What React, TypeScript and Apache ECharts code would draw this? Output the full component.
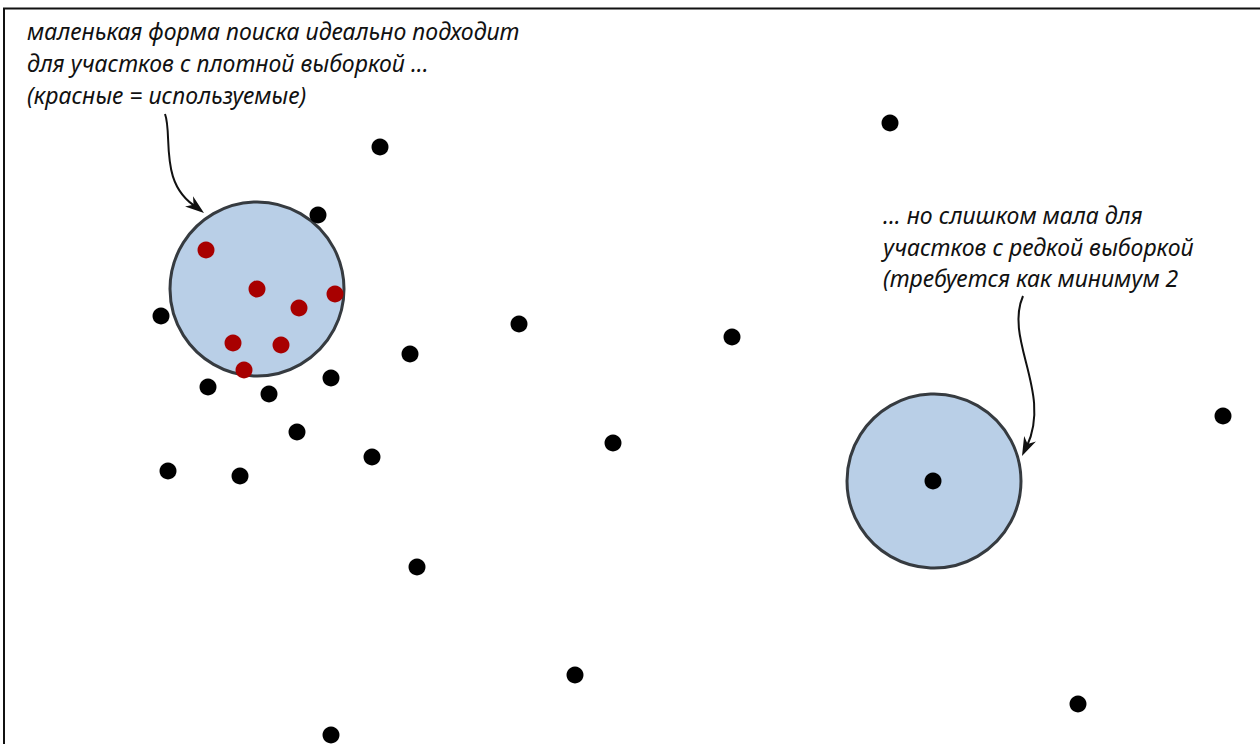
import React, { useEffect, useRef } from "react";
import * as echarts from "echarts";

// Sample points (pixel-like coordinates of the diagram plane, y grows downward)
const blackPoints: [number, number][] = [
  [380, 147], [890, 123], [318, 215], [161, 316], [519, 324], [732, 337],
  [410, 354], [331, 378], [208, 387], [269, 394], [297, 432], [613, 443],
  [1223, 416], [372, 457], [168, 471], [240, 476], [933, 481], [417, 567],
  [575, 675], [1078, 704], [331, 735],
];
const redPoints: [number, number][] = [
  [206, 250], [257, 289], [299, 308], [335, 294], [233, 343], [281, 345], [244, 370],
];
// Search windows (centre x, centre y)
const searchCircles: [number, number][] = [
  [257, 289], [934, 481],
];
const noteLeft: string[] = [
  "маленькая форма поиска идеально подходит",
  "для участков с плотной выборкой ...",
  "(красные = используемые)",
];
const noteRight: string[] = [
  "... но слишком мала для",
  "участков с редкой выборкой",
  "(требуется как минимум 2",
];

const W = 1260;
const H = 744;

function arrowHead(tipX: number, tipY: number, angleDeg: number, color: string) {
  const a = (angleDeg * Math.PI) / 180;
  const len = 19;
  const half = 6.5;
  const dx = Math.cos(a), dy = Math.sin(a);
  const bx = tipX - dx * len, by = tipY - dy * len;
  const nx = -dy, ny = dx;
  const notchX = tipX - dx * len * 0.7, notchY = tipY - dy * len * 0.7;
  return {
    type: "polygon",
    shape: {
      points: [
        [tipX, tipY],
        [bx + nx * half, by + ny * half],
        [notchX, notchY],
        [bx - nx * half, by - ny * half],
      ],
    },
    style: { fill: color },
    z: 20,
  };
}

export default function App() {
  const ref = useRef<HTMLDivElement>(null);
  useEffect(() => {
    document.body.style.margin = "0";
    if (!ref.current) return;
    const chart = echarts.init(ref.current, undefined, { renderer: "svg" });
    const font = '"Noto Sans", sans-serif';
    const textEls: any[] = [];
    noteLeft.forEach((t, i) => {
      textEls.push({
        type: "text",
        x: 27,
        y: 31 + i * 32,
        style: {
          text: t, fill: "#111", fontSize: 23, fontStyle: "italic", fontFamily: font,
          textVerticalAlign: "middle", textAlign: "left",
        },
        z: 20,
      });
    });
    noteRight.forEach((t, i) => {
      textEls.push({
        type: "text",
        x: 883,
        y: 215 + i * 31.5,
        style: {
          text: t, fill: "#111", fontSize: 23, fontStyle: "italic", fontFamily: font,
          textVerticalAlign: "middle", textAlign: "left",
        },
        z: 20,
      });
    });
    const arrowColor = "#111";
    chart.setOption({
      animation: false,
      backgroundColor: "#fff",
      grid: { left: 0, right: 0, top: 0, bottom: 0 },
      xAxis: { type: "value", min: 0, max: W, show: false },
      yAxis: { type: "value", min: 0, max: H, inverse: true, show: false },
      series: [
        {
          type: "scatter",
          name: "search",
          data: searchCircles,
          symbolSize: 174,
          itemStyle: { color: "#b9cfe7", borderColor: "#363b40", borderWidth: 3, opacity: 1 },
          z: 1,
          silent: true,
        },
        {
          type: "scatter",
          name: "unused",
          data: blackPoints,
          symbolSize: 17,
          itemStyle: { color: "#000", opacity: 1 },
          z: 3,
        },
        {
          type: "scatter",
          name: "used",
          data: redPoints,
          symbolSize: 17,
          itemStyle: { color: "#a80000", opacity: 1 },
          z: 4,
        },
      ],
      graphic: [
        // frame (top + left edge)
        { type: "line", shape: { x1: 3, y1: 8.5, x2: W, y2: 8.5 }, style: { stroke: "#111", lineWidth: 2 }, z: 30 },
        { type: "line", shape: { x1: 4, y1: 8, x2: 4, y2: H }, style: { stroke: "#111", lineWidth: 2 }, z: 30 },
        // arrow 1
        {
          type: "bezierCurve",
          shape: { x1: 165, y1: 114, cpx1: 173, cpy1: 135, cpx2: 158, cpy2: 185, x2: 198, y2: 208 },
          style: { stroke: arrowColor, lineWidth: 2, fill: null },
          z: 20,
        },
        arrowHead(204, 213, 38, arrowColor),
        // arrow 2
        {
          type: "bezierCurve",
          shape: { x1: 1023, y1: 296, cpx1: 1004, cpy1: 340, cpx2: 1052, cpy2: 392, x2: 1027, y2: 446 },
          style: { stroke: arrowColor, lineWidth: 2, fill: null },
          z: 20,
        },
        arrowHead(1022, 456, 115, arrowColor),
        ...textEls,
      ],
    });
    return () => chart.dispose();
  }, []);
  return <div ref={ref} style={{ width: W, height: H, position: "absolute", left: 0, top: 0 }} />;
}
